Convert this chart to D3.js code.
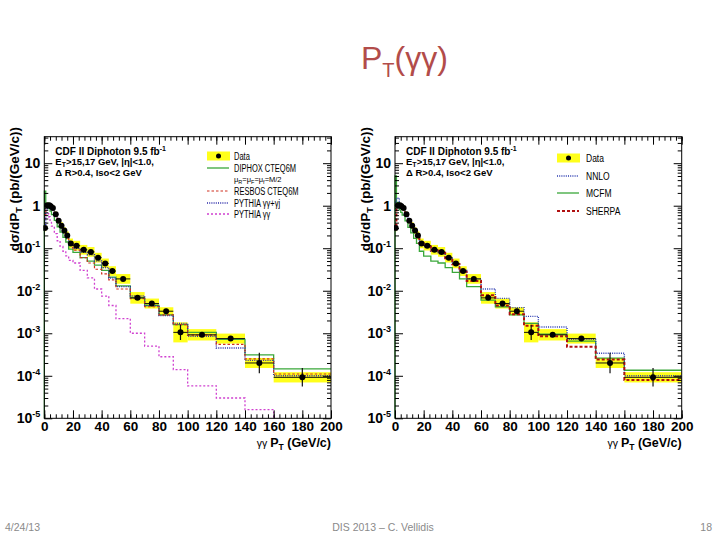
<!DOCTYPE html>
<html><head><meta charset="utf-8">
<script src="https://cdn.jsdelivr.net/npm/d3@7"></script>
<style>body{margin:0;background:#fff} svg{display:block}</style>
</head><body>
<svg id="c" width="720" height="540"></svg>
<script>
// ---------------- data ----------------
const binEdges = [0,1,3,4,5,7,9,11,13,15,17,20,25,30,35,40,45,50,60,70,80,90,100,120,140,160,200];
const dataVals = [0.30,1.02,1.02,0.97,0.88,0.63,0.44,0.34,0.26,0.20,0.13,0.115,0.092,0.082,0.060,0.044,0.029,0.019,0.0068,0.0050,0.0033,0.00105,0.00092,0.00075,0.00020,0.000092];
const dataSys  = [0.2,0.15,0.15,0.15,0.15,0.15,0.15,0.2,0.2,0.25,0.3,0.3,0.3,0.3,0.3,0.3,0.3,0.3,0.37,0.31,0.24,0.72,0.36,0.31,0.31,0.32];
const dataStat = [0.05,0.03,0.03,0.03,0.03,0.03,0.03,0.04,0.04,0.05,0.05,0.05,0.06,0.06,0.07,0.08,0.09,0.08,0.12,0.12,0.15,0.52,0.12,0.12,0.75,0.65];
const diphox   = [2.2,0.95,0.85,0.75,0.62,0.45,0.32,0.24,0.18,0.14,0.095,0.08,0.06,0.05,0.04,0.03,0.021,0.013,0.0068,0.0045,0.0027,0.0016,0.00105,0.00072,0.00031,0.000145];
const resbos   = [0.6,1.05,1.05,0.98,0.88,0.62,0.44,0.33,0.25,0.19,0.125,0.09,0.06,0.045,0.032,0.025,0.018,0.011,0.0065,0.0042,0.0027,0.0016,0.0009,0.00055,0.00025,0.00011];
const pythiaAll= [0.3,0.85,0.95,0.9,0.8,0.58,0.4,0.3,0.23,0.17,0.12,0.1,0.08,0.07,0.05,0.035,0.02,0.0125,0.0075,0.0045,0.0026,0.0017,0.00085,0.00045,0.00023,0.0001];
const pythiaGG = [0.5,0.65,0.55,0.45,0.33,0.22,0.15,0.11,0.085,0.066,0.052,0.045,0.03,0.02,0.011,0.0075,0.0045,0.0022,0.001,0.0005,0.00028,0.00014,0.000058,0.00003,0.000016,0.000005];
const nnlo     = [1.2,1.5,1.1,0.95,0.85,0.62,0.45,0.34,0.26,0.2,0.13,0.11,0.085,0.075,0.058,0.042,0.03,0.019,0.011,0.0066,0.004,0.0025,0.0014,0.00072,0.00034,0.0001];
const mcfm     = [5,1.2,0.8,0.7,0.6,0.44,0.31,0.23,0.17,0.13,0.085,0.065,0.05,0.045,0.035,0.027,0.019,0.0125,0.006,0.0042,0.0027,0.0017,0.00095,0.00065,0.00026,0.000135];
const sherpa   = [0.35,0.95,1.0,0.95,0.87,0.62,0.44,0.33,0.25,0.19,0.13,0.11,0.088,0.078,0.058,0.042,0.028,0.017,0.0078,0.0045,0.0028,0.0015,0.00085,0.00048,0.00024,0.00008];
const xMajorTicks = [0,20,40,60,80,100,120,140,160,180,200];
const yDecades = [-5,-4,-3,-2,-1,0,1];
const leftLegend = ["Data","DIPHOX CTEQ6M","RESBOS CTEQ6M","PYTHIA γγ+γj","PYTHIA γγ"];
const rightLegend = ["Data","NNLO","MCFM","SHERPA"];

// ---------------- styles ----------------
const ST = {
  diphox:{stroke:"#3aa83a",w:1.3,dash:null},
  resbos:{stroke:"#d03020",w:1.2,dash:"2.5,2"},
  pythiaAll:{stroke:"#2a2aa8",w:1.4,dash:"1,1.2"},
  pythiaGG:{stroke:"#d040d0",w:1.3,dash:"2,2"},
  nnlo:{stroke:"#2a3ab0",w:1.4,dash:"1,1.2"},
  mcfm:{stroke:"#3aa83a",w:1.3,dash:null},
  sherpa:{stroke:"#b01010",w:2,dash:"3,2"}
};
const FONT = "'Liberation Sans', Arial, Helvetica, sans-serif";
const svg = d3.select("#c");

function styleLine(sel, s){
  sel.attr("fill","none").attr("stroke",s.stroke).attr("stroke-width",s.w);
  if (s.dash) sel.attr("stroke-dasharray",s.dash);
  return sel;
}
function squeeze(sel, f){
  sel.each(function(){ const L=this.getComputedTextLength(); d3.select(this).attr("textLength",L*f).attr("lengthAdjust","spacingAndGlyphs"); });
}

function drawPanel(id, x0, x1, series, legend, legendCfg){
  const g = svg.append("g");
  const x = d3.scaleLinear().domain([0,200]).range([x0,x1]);
  const y = d3.scaleLog().domain([1e-5,42]).range([418.3,136.7]);
  const top=y.range()[1], bot=y.range()[0];
  g.append("clipPath").attr("id","clip"+id).append("rect")
    .attr("x",x0-1).attr("y",top).attr("width",x1-x0+1).attr("height",bot-top);
  const pg = g.append("g").attr("clip-path",`url(#clip${id})`);
  const centers = binEdges.slice(0,-1).map((e,i)=>(e+binEdges[i+1])/2);

  // systematic band
  pg.selectAll("rect.band").data(dataVals).join("rect")
    .attr("x",(d,i)=>x(binEdges[i])).attr("width",(d,i)=>x(binEdges[i+1])-x(binEdges[i]))
    .attr("y",(d,i)=>y(d*(1+dataSys[i]))).attr("height",(d,i)=>y(d/(1+dataSys[i]))-y(d*(1+dataSys[i])))
    .attr("fill","#ffff1a");

  // theory curves
  const line = d3.line().x(d=>x(d[0])).y(d=>y(d[1])).curve(d3.curveStepAfter);
  series.forEach(s=>{
    const pts = binEdges.slice(0,-1).map((e,i)=>[e,s.vals[i]]);
    pts.push([200,s.vals[s.vals.length-1]]);
    if (s.fromBottom) pts.unshift([0,1e-6]);
    styleLine(pg.append("path").attr("d",line(pts)), s.style);
  });

  // data
  pg.selectAll("line.hb").data(dataVals).join("line")
    .attr("x1",(d,i)=>x(binEdges[i])).attr("x2",(d,i)=>x(binEdges[i+1]))
    .attr("y1",d=>y(d)).attr("y2",d=>y(d)).attr("stroke","#111").attr("stroke-width",1);
  pg.selectAll("line.vb").data(dataVals).join("line")
    .attr("x1",(d,i)=>x(centers[i])).attr("x2",(d,i)=>x(centers[i]))
    .attr("y1",(d,i)=>y(d*(1+dataStat[i]))).attr("y2",(d,i)=>y(d/(1+dataStat[i])))
    .attr("stroke","#111").attr("stroke-width",1.2);
  pg.selectAll("circle.pt").data(dataVals).join("circle")
    .attr("cx",(d,i)=>x(centers[i])).attr("cy",d=>y(d)).attr("r",3).attr("fill","#000");

  // axes
  const minorX = d3.range(0,201,4);
  const minorY = [];
  for (let e=-5;e<=1;e++) for (let k=2;k<=9;k++){ const v=k*Math.pow(10,e); if (v<=42) minorY.push(v); }
  const clean = a=>a.call(s=>s.select(".domain").remove()).selectAll("line").attr("stroke","#000");
  const bx = g.append("g").attr("transform",`translate(0,${bot})`)
    .call(d3.axisBottom(x).tickValues(xMajorTicks).tickSize(-8).tickPadding(3).tickFormat(d3.format("d")));
  clean(bx);
  bx.selectAll("text").attr("font-family",FONT).attr("font-size",13.5).attr("font-weight","bold").attr("fill","#000");
  clean(g.append("g").attr("transform",`translate(0,${bot})`).call(d3.axisBottom(x).tickValues(minorX).tickSize(-4).tickFormat("")));
  clean(g.append("g").attr("transform",`translate(0,${top})`).call(d3.axisTop(x).tickValues(xMajorTicks).tickSize(-8).tickFormat("")));
  clean(g.append("g").attr("transform",`translate(0,${top})`).call(d3.axisTop(x).tickValues(minorX).tickSize(-4).tickFormat("")));
  const ly = g.append("g").attr("transform",`translate(${x0},0)`)
    .call(d3.axisLeft(y).tickValues(yDecades.map(e=>Math.pow(10,e))).tickSize(-8).tickPadding(4).tickFormat(""));
  clean(ly);
  ly.selectAll(".tick text").each(function(d){
    const t=d3.select(this).attr("font-family",FONT).attr("font-size",14).attr("font-weight","bold").attr("fill","#000");
    const e=Math.round(Math.log10(d));
    if (e===0) t.text("1");
    else if (e===1) t.text("10");
    else { t.append("tspan").text("10"); t.append("tspan").attr("font-size",9).attr("dy","-6").text(String(e)); }
  });
  clean(g.append("g").attr("transform",`translate(${x0},0)`).call(d3.axisLeft(y).tickValues(minorY).tickSize(-4).tickFormat("")));
  clean(g.append("g").attr("transform",`translate(${x1},0)`).call(d3.axisRight(y).tickValues(yDecades.map(e=>Math.pow(10,e))).tickSize(-8).tickFormat("")));
  clean(g.append("g").attr("transform",`translate(${x1},0)`).call(d3.axisRight(y).tickValues(minorY).tickSize(-4).tickFormat("")));
  g.append("rect").attr("x",x0).attr("y",top).attr("width",x1-x0).attr("height",bot-top)
    .attr("fill","none").attr("stroke","#000").attr("stroke-width",1);

  // axis titles
  const yt = g.append("text").attr("transform",`translate(${x0-25},127) rotate(-90)`)
    .attr("text-anchor","end").attr("font-family",FONT).attr("font-size",13.5).attr("font-weight","bold");
  yt.append("tspan").text("dσ/dP");
  yt.append("tspan").attr("font-size",9).attr("dy",3).text("T");
  yt.append("tspan").attr("dy",-3).text(" (pb/(GeV/c))");
  const xt = g.append("text").attr("x",x1).attr("y",447).attr("text-anchor","end")
    .attr("font-family",FONT).attr("font-size",12.5).attr("font-weight","bold");
  xt.append("tspan").attr("font-weight","normal").attr("font-size",10.5).text("γγ ");
  xt.append("tspan").text("P");
  xt.append("tspan").attr("font-size",8.5).attr("dy",3).text("T");
  xt.append("tspan").attr("dy",-3).text(" (GeV/c)");

  // info text
  const ix = x0+11;
  const i1 = g.append("text").attr("x",ix).attr("y",154.5).attr("font-family",FONT).attr("font-size",10).attr("font-weight","bold");
  i1.append("tspan").text("CDF II  Diphoton   9.5 fb");
  i1.append("tspan").attr("font-size",7).attr("dy",-4).text("-1");
  const i2 = g.append("text").attr("x",ix).attr("y",165).attr("font-family",FONT).attr("font-size",9.5).attr("font-weight","bold");
  i2.append("tspan").text("E");
  i2.append("tspan").attr("font-size",7).attr("dy",2).text("T");
  i2.append("tspan").attr("dy",-2).text(">15,17 GeV, |η|<1.0,");
  g.append("text").attr("x",ix).attr("y",175.5).attr("font-family",FONT).attr("font-size",9.5).attr("font-weight","bold")
    .text("Δ R>0.4, Iso<2 GeV");

  // legend
  const lx = legendCfg.x, tx = legendCfg.tx;
  legend.forEach((name,i)=>{
    const yy = legendCfg.rows[i];
    if (i===0){
      g.append("rect").attr("x",lx).attr("y",yy-4.5).attr("width",23).attr("height",9).attr("fill","#ffff1a");
      g.append("circle").attr("cx",lx+11.5).attr("cy",yy).attr("r",2.5).attr("fill","#000");
    } else {
      styleLine(g.append("line").attr("x1",lx).attr("x2",lx+22).attr("y1",yy).attr("y2",yy), legendCfg.styles[i-1]);
    }
    const t = g.append("text").attr("x",tx).attr("y",yy+3.5).attr("font-family",FONT).attr("font-size",10).text(name);
    squeeze(t, legendCfg.squeeze);
  });
  if (legendCfg.extra){
    const t = g.append("text").attr("x",tx).attr("y",legendCfg.extra.y).attr("font-family",FONT).attr("font-size",7.5);
    [["μ",""],["R","s"],["=μ",""],["F","s"],["=μ",""],["f","s"],["=M/2",""]].forEach(p=>{
      const sp=t.append("tspan").text(p[0]);
      if (p[1]) sp.attr("font-size",5.5).attr("dy",1.5); else if (t.selectAll("tspan").size()>1) sp.attr("dy",-1.5);
    });
  }
}

drawPanel("L",44.3,331,[
  {vals:diphox,style:ST.diphox,fromBottom:true},
  {vals:pythiaGG,style:ST.pythiaGG},
  {vals:pythiaAll,style:ST.pythiaAll},
  {vals:resbos,style:ST.resbos}
], leftLegend, {x:207,tx:234,rows:[156,168,191,203,214],styles:[ST.diphox,ST.resbos,ST.pythiaAll,ST.pythiaGG],squeeze:0.75,extra:{y:182}});

drawPanel("R",395,681.7,[
  {vals:mcfm,style:ST.mcfm,fromBottom:true},
  {vals:nnlo,style:ST.nnlo},
  {vals:sherpa,style:ST.sherpa}
], rightLegend, {x:557,tx:586,rows:[158,176,193,211],styles:[ST.nnlo,ST.mcfm,ST.sherpa],squeeze:0.85});

// slide title
const title = svg.append("text").attr("x",361).attr("y",69).attr("font-family",FONT).attr("font-size",32).attr("fill","#b24c4a");
title.append("tspan").text("P");
title.append("tspan").attr("font-size",20).attr("dy",8).text("T");
title.append("tspan").attr("dy",-8).text("(γγ)");

// footer
const foot = [["4/24/13",5,"start"],["DIS 2013 – C. Vellidis",383,"middle"],["18",712,"end"]];
foot.forEach(f=>svg.append("text").attr("x",f[1]).attr("y",531).attr("text-anchor",f[2])
  .attr("font-family",FONT).attr("font-size",10.5).attr("fill","#8a8a8a").text(f[0]));
</script>
</body></html>
